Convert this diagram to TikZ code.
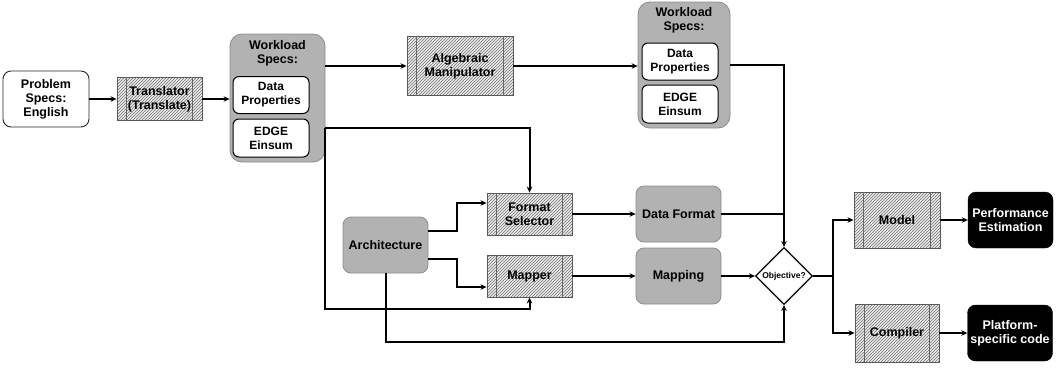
\documentclass[tikz,border=0pt]{standalone}
\usepackage{fontspec}
\setmainfont{Liberation Sans}
\usetikzlibrary{calc,patterns,shapes.geometric,arrows.meta}
\def\sidebars(#1){\draw[line width=0.9pt, color=black!60] ($(#1.north west)+(10,0)$) -- ($(#1.south west)+(10,0)$); \draw[line width=0.9pt, color=black!60] ($(#1.north east)+(-10,0)$) -- ($(#1.south east)+(-10,0)$);}
\tikzset{
	boxfont/.style={font=\bfseries\fontsize{12.5}{14}\selectfont, align=center, inner sep=1pt},
	flow/.style={line width=2pt, color=black},
	flowarr/.style={flow, -{Stealth[length=6pt,width=5.5pt]}},
	hatchbox/.style={boxfont, draw=black!65, line width=0.9pt, preaction={fill=black!8}, pattern=north east lines, pattern color=black!55, minimum width=85, minimum height=42},
	graybox/.style={boxfont, draw=black!45, fill=black!30, line width=0.8pt, rounded corners=8, minimum width=85, minimum height=56},
	whitebox/.style={boxfont, draw=black!85, fill=white, line width=0.9pt, rounded corners=8, minimum width=86, minimum height=56},
	darkbox/.style={boxfont, draw=black, fill=black, text=white, rounded corners=8, minimum width=85, minimum height=56},
	specsbox/.style={draw=black!45, fill=black!30, line width=0.8pt, rounded corners=12, minimum width=95, minimum height=128},
	specstitle/.style={boxfont},
	subbox/.style={font=\bfseries\fontsize{12}{14}\selectfont, align=center, inner sep=1pt, draw=black, fill=white, line width=1pt, rounded corners=6, minimum width=76, minimum height=37},
	choice/.style={diamond, draw=black, line width=1.2pt, fill=white, minimum width=57, minimum height=57, inner sep=0pt}
}
\begin{document}
\begin{tikzpicture}[x=1pt, y=-1pt]
	%%%%% START %%%%%
	\useasboundingbox (0,0) rectangle (1063,367);
	
	\node[whitebox] (prob) at (46,99) {Problem\\Specs:\\English};
	\node[hatchbox, minimum height=43] (trans) at (159.5,99) {Translator\\(Translate)};
	\sidebars(trans)
	
	\node[specsbox] (ws1) at (277.5,98) {};
	\node[specstitle] (ws1t) at (277.5,53) {Workload\\Specs:};
	\node[subbox] (dp1) at (271,95) {Data\\Properties};
	\node[subbox, minimum height=38] (ee1) at (271,138) {EDGE\\Einsum};
	
	\node[hatchbox, minimum width=106, minimum height=59] (alg) at (460,66) {Algebraic\\Manipulator};
	\sidebars(alg)
	
	\node[specsbox, minimum width=92, minimum height=126] (ws2) at (684,65) {};
	\node[specstitle] (ws2t) at (684,20) {Workload\\Specs:};
	\node[subbox] (dp2) at (680,61.5) {Data\\Properties};
	\node[subbox, minimum height=38] (ee2) at (680,104) {EDGE\\Einsum};
	
	\node[graybox] (arch) at (385.5,245) {Architecture};
	\node[hatchbox] (fmt) at (529.5,214) {Format\\Selector};
	\sidebars(fmt)
	\node[hatchbox] (mapper) at (529.5,276) {Mapper};
	\sidebars(mapper)
	\node[graybox] (dfmt) at (678.5,214) {Data Format};
	\node[graybox] (mapping) at (678.5,276) {Mapping};
	
	\node[choice, label={[font=\bfseries\fontsize{8.5}{9}\selectfont]center:Objective?}] (obj) at (784,276) {};
	
	\node[hatchbox, minimum width=86, minimum height=56] (model) at (897,220) {Model};
	\sidebars(model)
	\node[hatchbox, minimum width=84, minimum height=58] (comp) at (897,333) {Compiler};
	\sidebars(comp)
	\node[darkbox] (perf) at (1010.5,220) {Performance\\Estimation};
	\node[darkbox] (plat) at (1010,333) {Platform-\\specific code};
	
	% connectors
	\coordinate (ws1o) at ($(ws1.east)+(0,30)$);
	\draw[flowarr] (prob.east) -- (prob.east -| trans.west);
	\draw[flowarr] (trans.east) -- (trans.east -| ws1.west);
	\draw[flowarr] (ws1.east |- alg.west) -- (alg.west);
	\draw[flowarr] (alg.east) -- (alg.east -| ws2.west);
	\draw[flowarr] (ws2.east) -| (obj.north);
	\draw[flowarr] (ws1o) -| (fmt.north);
	\draw[flowarr] (ws1o) -- ++(0,181) -| (mapper.south);
	
	\draw[flowarr] ($(arch.east)+(0,-14)$) -- ++(29,0) |- ($(fmt.west)+(0,-11)$);
	\draw[flowarr] ($(arch.east)+(0,14)$) -- ++(29,0) |- ($(mapper.west)+(0,11)$);
	\draw[flowarr] (arch.south) -- ++(0,69) -| (obj.south);
	
	\draw[flowarr] (fmt.east) -- (dfmt.west);
	\draw[flow] (dfmt.east) -- (dfmt.east -| obj.north);
	\draw[flowarr] (mapper.east) -- (mapping.west);
	\draw[flowarr] (mapping.east) -- (obj.west);
	
	\draw[flowarr] (obj.east) -- ++(20,0) |- (model.west);
	\draw[flowarr] (obj.east) -- ++(20,0) |- (comp.west);
	\draw[flowarr] (model.east) -- (perf.west);
	\draw[flowarr] (comp.east) -- (plat.west);
	
	%%%%% END %%%%%
\end{tikzpicture}
\end{document}
